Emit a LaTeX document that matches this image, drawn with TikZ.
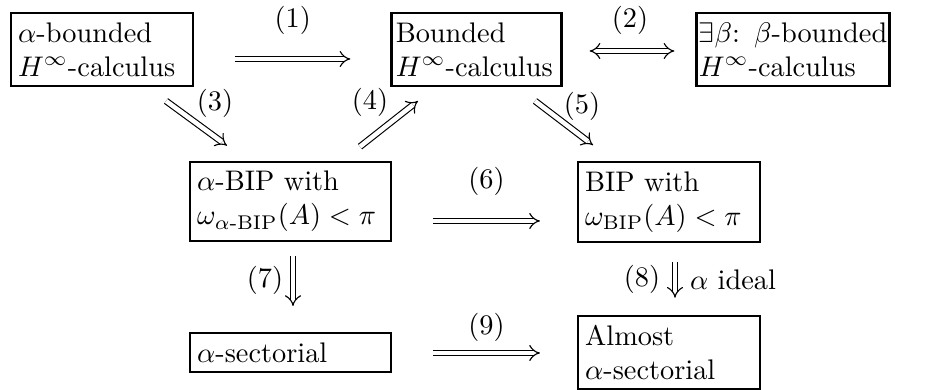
\documentclass[tikz,border=0pt]{standalone}
\usepackage{amsmath}
\usetikzlibrary{arrows.meta,calc}
\begin{document}
\begin{tikzpicture}[x=0.353pt,y=-0.353pt,
  box/.style={draw, line width=0.8pt, align=left, inner xsep=2.5pt, inner ysep=3.3pt},
  imp/.style={double, double distance=1.6pt, line width=0.4pt, -{Implies}},
  impb/.style={double, double distance=1.6pt, line width=0.4pt, {Implies}-{Implies}},
  lbl/.style={inner sep=0pt}]
\useasboundingbox (0,0) rectangle (929,390);
\node[box, text width=59.2pt] (A) at (102,49.5) {\mbox{$\alpha$-bounded}\\ \mbox{$H^\infty$-calculus}};
\node[box, inner xsep=1.5pt, text width=57pt] (B) at (476.5,49.5) {\mbox{Bounded}\\ \mbox{$H^\infty$-calculus}};
\node[box, inner xsep=0.8pt, text width=66.5pt] (C) at (793,49.5) {\mbox{$\exists\beta$: $\beta$-bounded}\\ \mbox{$H^\infty$-calculus}};
\node[box, text width=65.9pt] (D) at (290.5,201.5) {\mbox{$\alpha$-BIP with}\\ \mbox{$\omega_{\alpha\text{-}\mathrm{BIP}}(A)<\pi$}};
\node[box, text width=59.2pt] (E) at (669,202) {\mbox{BIP with}\\ \mbox{$\omega_{\mathrm{BIP}}(A)<\pi$}};
\node[box, text width=65.9pt] (F) at (290.5,352.5) {\mbox{$\alpha$-sectorial}};
\node[box, text width=59.2pt] (G) at (669,352.5) {\mbox{Almost}\\ \mbox{$\alpha$-sectorial}};

\draw[imp] ($(A.east)+(41,9.5)$) -- node[lbl, shift={(0,-39)}] (l1) {(1)} ($(B.west)+(-40,9.5)$);
\draw[impb] ($(B.east)+(27,1.5)$) -- node[lbl, shift={(-2,-31)}] (l2) {(2)} ($(C.west)+(-21,1.5)$);
\draw[imp] ($(A.south)+(64,14)$) -- node[lbl, shift={(18.5,-19.5)}] (l3) {(3)} ($(D.north)+(-63.5,-15)$);
\draw[imp] ($(D.north)+(69.5,-14)$) -- node[lbl, shift={(-19,-21)}] (l4) {(4)} ($(B.south)+(-58.5,14)$);
\draw[imp] ($(B.south)+(58.5,14)$) -- node[lbl, shift={(18,-16.5)}] (l5) {(5)} ($(E.north)+(-76,-16)$);
\draw[imp] ($(D.east)+(41,19.5)$) -- node[lbl, shift={(0,-40)}] (l6) {(6)} ($(E.west)+(-37,19)$);
\draw[imp] ($(D.south)+(2.5,14)$) -- node[lbl, shift={(-28,-1)}] (l7) {(7)} ($(F.north)+(2.5,-26)$);
\draw[imp] ($(E.south)+(6,19)$) -- node[lbl, shift={(-33,0)}] (l8) {(8)} node[lbl, shift={(58,0)}] (l8b) {$\alpha$ ideal} ($(G.north)+(6,-17)$);
\draw[imp] ($(F.east)+(41,0.5)$) -- node[lbl, shift={(0,-26)}] (l9) {(9)} ($(G.west)+(-37,0.5)$);
\end{tikzpicture}
\end{document}
